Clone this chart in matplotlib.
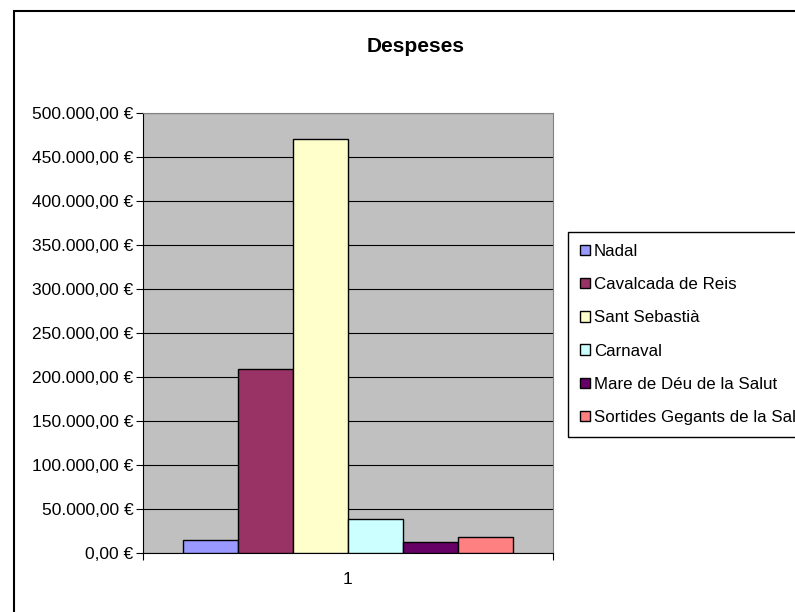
import matplotlib.pyplot as plt
from matplotlib.patches import Rectangle
from matplotlib.ticker import FuncFormatter, MultipleLocator

plt.rcParams['font.family'] = ['Liberation Sans', 'DejaVu Sans']

# data
series = ['Nadal', 'Cavalcada de Reis', 'Sant Sebastià', 'Carnaval',
          'Mare de Déu de la Salut', 'Sortides Gegants de la Salut']
values = [15000, 209000, 470000, 39000, 12500, 18000]
colors = ['#9999FF', '#993366', '#FFFFCC', '#CCFFFF', '#660066', '#FF8080']
category = '1'


def euro(v, pos):
    s = '{:,.2f}'.format(v).replace(',', 'X').replace('.', ',').replace('X', '.')
    return s + ' €'


fig = plt.figure(figsize=(7.95, 6.12), dpi=100)
# outer chart frame (cut off at right/bottom like the reference)
fig.patches.append(Rectangle((14 / 795, -0.1), 1.2, 1 - 11 / 612 + 0.1,
                             transform=fig.transFigure, fill=False,
                             edgecolor='black', linewidth=1.5))

ax = fig.add_axes([143 / 795, 59 / 612, 410 / 795, 440 / 612])
ax.set_facecolor('#C0C0C0')

n = len(values)
group = 0.805
w = group / n
for i, (name, v, c) in enumerate(zip(series, values, colors)):
    x = 1 - group / 2 + w * (i + 0.5)
    ax.bar(x, v, width=w, color=c, edgecolor='black', linewidth=1,
           label=name, zorder=3)

ax.set_xlim(0.5, 1.5)
ax.set_ylim(0, 500000)
ax.yaxis.set_major_locator(MultipleLocator(50000))
ax.yaxis.set_major_formatter(FuncFormatter(euro))
ax.grid(axis='y', color='black', linewidth=0.8, zorder=1)
ax.set_axisbelow(True)

ax.set_xticks([0.5, 1.5])
ax.set_xticklabels(['', ''])
ax.set_xticks([1.0], minor=True)
ax.set_xticklabels([category], minor=True)
ax.tick_params(axis='x', which='minor', length=0, pad=14, labelsize=12.5)
ax.tick_params(axis='x', which='major', length=5, direction='out')
ax.tick_params(axis='y', length=5, direction='out', labelsize=12.5, pad=2)

for s in ['left', 'bottom']:
    ax.spines[s].set_color('black')
for s in ['top', 'right']:
    ax.spines[s].set_color('#808080')

fig.text(416 / 795, 1 - 47 / 612, 'Despeses', ha='center', va='center',
         fontsize=15, fontweight='bold')

leg = fig.legend(loc='upper left', bbox_to_anchor=(568 / 795, 1 - 232 / 612),
                 fontsize=12.2, frameon=True, fancybox=False,
                 edgecolor='black', handlelength=0.55, handleheight=0.55,
                 handletextpad=0.25, labelspacing=1.07, borderpad=0.72,
                 borderaxespad=0, framealpha=1)
leg.get_frame().set_linewidth(1)

fig.savefig('out.png', dpi=100)
